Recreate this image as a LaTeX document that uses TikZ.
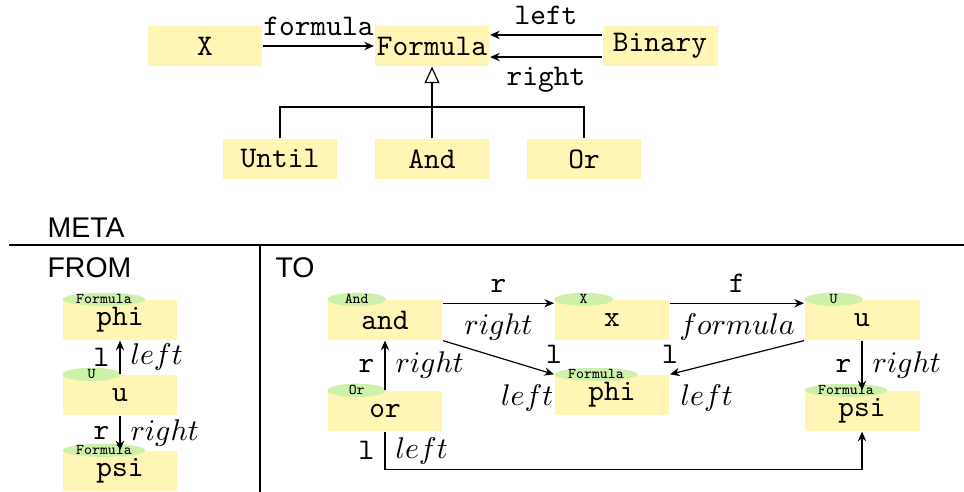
\documentclass[tikz,border=0pt]{standalone}
\usepackage{fontspec}
\usetikzlibrary{arrows.meta,shapes.geometric}
\newfontfamily\headfont{Liberation Sans}
\definecolor{boxyellow}{RGB}{255,245,180}
\definecolor{taggreen}{RGB}{205,240,170}

\begin{document}
\begin{tikzpicture}[x=0.334pt, y=-0.334pt, >={Stealth[length=3.2pt,width=2.8pt]},
    obj/.style={fill=boxyellow, minimum width=38.4pt, minimum height=13.4pt, inner sep=0pt, font=\ttfamily},
    tag/.style={ellipse, fill=taggreen, font=\tiny\ttfamily, inner xsep=0.5pt, inner ysep=0pt,
      minimum width=19.5pt, minimum height=4pt, anchor=west},
    head/.style={font=\headfont\fontsize{9.5}{11}\selectfont, anchor=west, inner sep=0pt},
    lbl/.style={font=\ttfamily}]
  \useasboundingbox (0,0) rectangle (964,492);

  % Class diagram
  \foreach \name/\x/\y in {X/205/46, Formula/432/46, Binary/660/46,
                           Until/280/159, And/432/159, Or/584/159} {
    \node [obj] (\name) at (\x, \y) {\name};
  }
  \draw [->] (X) -- node [lbl, above] {formula} (Formula);
  \draw [->] ([yshift=3.7pt]Binary.west) -- node [lbl, above] {left} ([yshift=3.7pt]Formula.east);
  \draw [->] ([yshift=-3.7pt]Binary.west) -- node [lbl, below] {right} ([yshift=-3.7pt]Formula.east);

  % Inheritance
  \coordinate (join) at (432, 107);
  \draw [-{Triangle[open, length=5.5pt, width=5pt]}] (And) -- (Formula);
  \draw (Until.north) |- (join) -| (Or.north);

  % Rule table
  \node [head] (meta) at (47, 228) {META};
  \node [head] (from) at (47, 268) {FROM};
  \node [head] (to) at (275, 268) {TO};
  \draw [semithick] (9, 245) -- (964, 245);
  \draw [semithick] (260, 245) -- (260, 492);

  % Objects: name/x/y/text/type
  \foreach \name/\x/\y/\txt/\type in {
      fphi/120/320/phi/Formula,
      fu/120/395/u/U,
      fpsi/120/471/psi/Formula,
      and/385/320/and/And,
      x/612/320/x/X,
      u/862/320/u/U,
      or/385/411/or/Or,
      phi/612/395/phi/Formula,
      psi/862/411/psi/Formula
    } {
    \node [obj] (\name) at (\x, \y) {\txt};
    \node [tag] at (\name.north west) {\type};
  }

  % FROM links
  \draw [->] (fu.north) -- node [lbl, left] {l} node [right] {$left$} (fphi.south);
  \draw [->] (fu.south) -- node [lbl, left] {r} node [right] {$right$} (fpsi.north);

  % TO links
  \draw [->] ([yshift=-1.3pt]and.north east) -- node [lbl, above] {r} node [below] {$right$}
    ([yshift=-1.3pt]x.north west);
  \draw [->] ([yshift=-1.3pt]x.north east) -- node [lbl, above] {f} node [below] {$formula$}
    ([yshift=-1.3pt]u.north west);
  \draw [->] (and.south east) -- node [lbl, at end, above] {l}
    node [at end, below left, inner xsep=0pt] {$left$} (phi.north west);
  \draw [->] (u.south west) -- node [lbl, at end, above] {l}
    node [at end, below right] {$left$} (phi.north east);
  \draw [->] (u.south) -- node [lbl, left] {r} node [right] {$right$} (psi.north);
  \draw [->] (or.north) -- node [lbl, left] {r} node [right] {$right$} (and.south);
  \draw [->] (or.south) -- node [lbl, left] {l} node [right] {$left$} ++(0, 38) -| (psi.south);
\end{tikzpicture}
\end{document}
